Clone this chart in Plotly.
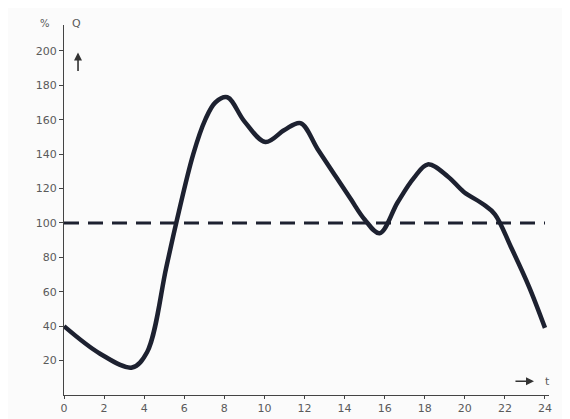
import plotly.graph_objects as go

hours = [0, 1.8, 3.4, 4.15, 5.1, 5.6, 6.45, 7.05, 7.55, 8.15, 9, 10.05, 11, 11.8,
         12.65, 13.5, 14.3, 15.0, 15.75, 16.65, 17.45, 18.15, 19.15, 19.95, 20.9, 21.5, 22.3, 23.2, 24]
load_pct = [40, 24, 16, 25, 74, 100, 140, 160, 170, 173, 159, 147, 154, 158,
            143, 128, 114, 102, 94, 112, 126, 134, 127, 118, 111, 105, 86, 63, 39]
ref_hours = [0, 24]
ref_level = [100, 100]
x_ticks = list(range(0, 25, 2))
y_ticks = list(range(20, 201, 20))

ink = "#1d2130"
grey = "#5a5a5a"

fig = go.Figure()
fig.add_trace(go.Scatter(x=ref_hours, y=ref_level, mode="lines",
                         line=dict(color=ink, width=3, dash="15px,9px"),
                         hoverinfo="skip", showlegend=False))
fig.add_trace(go.Scatter(x=hours, y=load_pct, mode="lines",
                         line=dict(color=ink, width=4.5, shape="spline", smoothing=1.0),
                         showlegend=False))

fig.update_layout(
    width=562, height=411,
    margin=dict(l=56, r=21, t=17, b=24),
    paper_bgcolor="#fbfbfb", plot_bgcolor="#fbfbfb",
    font=dict(family="DejaVu Sans", size=11, color=grey),
    xaxis=dict(range=[0, 24.2], tickvals=x_ticks, ticktext=[str(v) for v in x_ticks],
               showgrid=False, zeroline=False, showline=True, linecolor="#444", linewidth=1.2,
               ticks="outside", ticklen=3, tickcolor="#444", automargin=False),
    yaxis=dict(range=[0, 215], tickvals=y_ticks, ticktext=[str(v) for v in y_ticks],
               showgrid=False, zeroline=False, showline=True, linecolor="#444", linewidth=1.2,
               ticks="outside", ticklen=4, tickcolor="#444", automargin=False),
    annotations=[
        dict(x=0, y=215, xref="x", yref="y", text="%", showarrow=False,
             xanchor="right", yanchor="middle", xshift=-12, yshift=2, font=dict(size=10, color=grey)),
        dict(x=0, y=215, xref="x", yref="y", text="Q", showarrow=False,
             xanchor="left", yanchor="middle", xshift=6, yshift=2, font=dict(size=11, color=grey)),
        dict(x=0.7, y=199, xref="x", yref="y", ax=0, ay=20, text="", showarrow=True,
             arrowhead=2, arrowsize=1, arrowwidth=1.6, arrowcolor="#333"),
        dict(x=23.45, y=8, xref="x", yref="y", ax=-20, ay=0, text="", showarrow=True,
             arrowhead=2, arrowsize=1, arrowwidth=1.6, arrowcolor="#333"),
        dict(x=24.1, y=8, xref="x", yref="y", text="t", showarrow=False,
             xanchor="center", yanchor="middle", font=dict(size=11, color=grey)),
    ],
)

fig.write_html("out.html")
